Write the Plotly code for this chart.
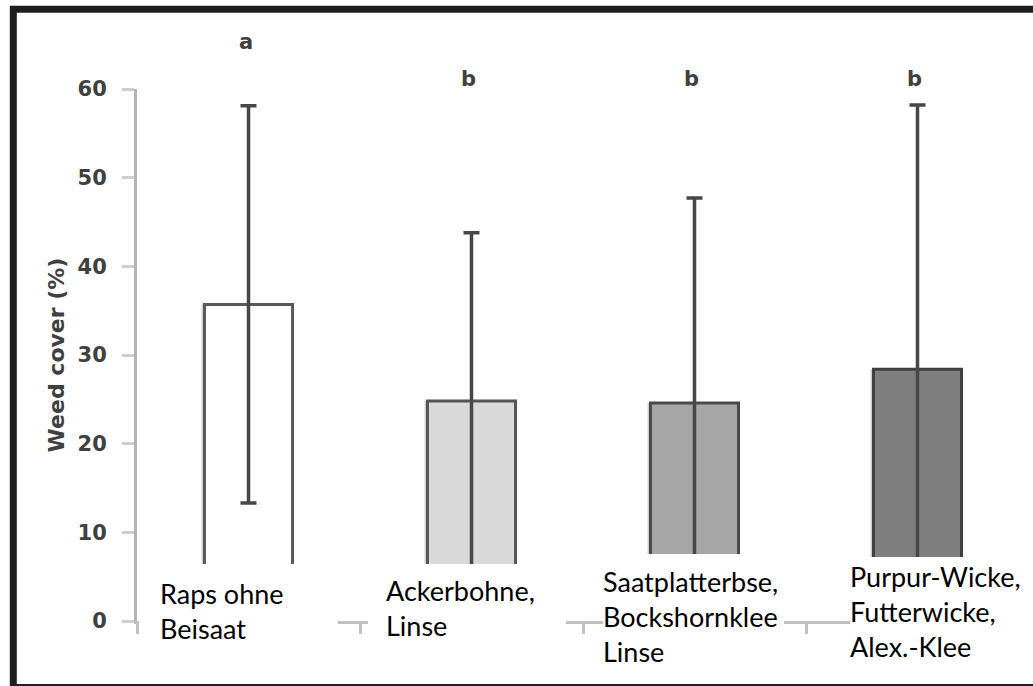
import plotly.graph_objects as go

# ---- data -------------------------------------------------------------
categories = [
    "Raps ohne Beisaat",
    "Ackerbohne, Linse",
    "Saatplatterbse, Bockshornklee Linse",
    "Purpur-Wicke, Futterwicke, Alex.-Klee",
]
label_lines = [
    ["Raps ohne", "Beisaat"],
    ["Ackerbohne,", "Linse"],
    ["Saatplatterbse,", "Bockshornklee", "Linse"],
    ["Purpur-Wicke,", "Futterwicke,", "Alex.-Klee"],
]
weed_cover = [35.7, 24.8, 24.6, 28.4]   # mean weed cover (%)
std_dev = [22.4, 19.0, 23.1, 29.8]      # +/- error
letters = ["a", "b", "b", "b"]          # significance groups
y_ticks = [0, 10, 20, 30, 40, 50, 60]

# ---- geometry helpers (figure pixels -> paper fractions) --------------
W, H = 1033, 686
ML, MR, MT, MB = 137, 4, 89, 65
PW = W - ML - MR
PH = H - MT - MB


def px_x(px):
    return (px - ML) / PW


def px_y(py):
    return (H - MB - py) / PH


fill_colors = ["#ffffff", "#d9d9d9", "#a6a6a6", "#7f7f7f"]
edge_colors = ["#5a5a5a", "#555555", "#4a4a4a", "#404040"]
BAR_W = 0.395
shadow_shift = 3 / (PW / 4)

tick_font = dict(family="DejaVu Sans", size=21, color="#404040", weight="bold")
label_font = dict(family="Lato", size=27, color="#000000")

fig = go.Figure()

# light strip peeking out on the left of each bar
fig.add_trace(go.Bar(
    x=categories, y=weed_cover, width=BAR_W, offset=-BAR_W / 2 - shadow_shift,
    marker=dict(color="#d6d6d6", line=dict(width=0)),
    hoverinfo="skip", showlegend=False,
))
# main bars
fig.add_trace(go.Bar(
    x=categories, y=weed_cover, width=BAR_W, offset=-BAR_W / 2,
    marker=dict(color=fill_colors, line=dict(color=edge_colors, width=3)),
    showlegend=False,
))
# error bars drawn on top so the whisker runs through the bar
fig.add_trace(go.Scatter(
    x=categories, y=weed_cover, mode="markers",
    marker=dict(size=1, opacity=0),
    error_y=dict(type="data", array=std_dev, symmetric=True,
                 color="#474747", thickness=3.5, width=8),
    showlegend=False,
))

fig.update_layout(
    width=W, height=H, autosize=False,
    margin=dict(l=ML, r=MR, t=MT, b=MB, pad=0),
    paper_bgcolor="white", plot_bgcolor="white",
    barmode="overlay", showlegend=False,
    xaxis=dict(
        type="category", range=[-0.5, 3.5], showticklabels=False,
        showline=True, linecolor="#c0c0c0", linewidth=3,
        ticks="outside", tickson="boundaries", ticklen=10, tickwidth=3,
        tickcolor="#c0c0c0", showgrid=False, zeroline=False,
    ),
    yaxis=dict(
        range=[0, 60], tickvals=y_ticks, showline=True,
        linecolor="#b4b4b4", linewidth=3,
        ticks="outside", ticklen=12, tickwidth=3, tickcolor="#cfcfcf",
        showgrid=False, zeroline=False, tickfont=tick_font,
        ticklabelstandoff=11,
        title=dict(text="Weed cover (%)", font=dict(tick_font, size=22), standoff=7),
    ),
)

shapes = []
# white label boxes covering the lower part of the bars
boxes = [(139, 338, 564), (368, 566, 564), (603, 784, 554), (850, 1040, 557)]
for x0, x1, top in boxes:
    shapes.append(dict(
        type="rect", xref="paper", yref="paper", layer="above",
        x0=px_x(x0), x1=px_x(x1), y0=px_y(top), y1=px_y(683),
        fillcolor="white", line=dict(width=0),
    ))
# dark frame
frame = "#1e1e21"
shapes.append(dict(type="line", xref="paper", yref="paper", layer="above",
                   x0=px_x(10), x1=px_x(1045), y0=px_y(9.3), y1=px_y(9.3),
                   line=dict(color=frame, width=7)))
shapes.append(dict(type="line", xref="paper", yref="paper", layer="above",
                   x0=px_x(13.3), x1=px_x(13.3), y0=px_y(6), y1=px_y(690),
                   line=dict(color=frame, width=7)))
shapes.append(dict(type="line", xref="paper", yref="paper", layer="above",
                   x0=px_x(10), x1=px_x(1045), y0=px_y(686), y1=px_y(686),
                   line=dict(color=frame, width=4)))
fig.update_layout(shapes=shapes)

annotations = []
# category labels (left-aligned, stacked lines)
label_pos = [(160.7, 585), (387.3, 582.7), (604, 573.3), (850.7, 568.3)]
for lines, (lx, ltop) in zip(label_lines, label_pos):
    annotations.append(dict(
        text="<br>".join(lines), xref="paper", yref="paper",
        x=px_x(lx - 3), y=px_y(ltop - 10.5), xanchor="left", yanchor="top",
        align="left", showarrow=False, font=label_font,
    ))
# significance letters
letter_y = [42, 79, 79, 79]
for cat, letter, ly in zip(categories, letters, letter_y):
    annotations.append(dict(
        text=letter, xref="x", yref="paper", x=cat, y=px_y(ly),
        xanchor="center", yanchor="middle", xshift=-3,
        showarrow=False, font=dict(tick_font, size=21),
    ))
fig.update_layout(annotations=annotations)

fig.write_html("out.html")
